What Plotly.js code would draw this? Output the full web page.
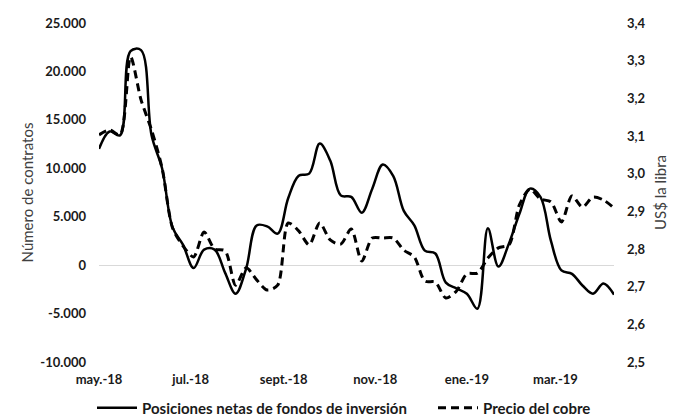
<!DOCTYPE html>
<html>
<head>
<meta charset="utf-8">
<script src="https://cdn.plot.ly/plotly-3.0.1.min.js"></script>
<style>html,body{margin:0;padding:0;background:#fff;}#chart{width:682px;height:420px;}</style>
</head>
<body>
<div id="chart"></div>
<script>
var dates = [
  '2018-05-01','2018-05-08','2018-05-15','2018-05-22','2018-05-29',
  '2018-06-05','2018-06-12','2018-06-19','2018-06-26',
  '2018-07-03','2018-07-10','2018-07-17','2018-07-24','2018-07-31',
  '2018-08-07','2018-08-14','2018-08-21','2018-08-28',
  '2018-09-04','2018-09-11','2018-09-18','2018-09-25',
  '2018-10-02','2018-10-09','2018-10-16','2018-10-23','2018-10-30',
  '2018-11-06','2018-11-13','2018-11-20','2018-11-27',
  '2018-12-04','2018-12-11','2018-12-18','2018-12-25',
  '2019-01-01','2019-01-08','2019-01-15','2019-01-22','2019-01-29',
  '2019-02-05','2019-02-12','2019-02-19','2019-02-26',
  '2019-03-05','2019-03-12','2019-03-19','2019-03-26',
  '2019-04-02','2019-04-09'
];
var posicionesNetas = [
  12000, 13800, 13400, 22100, 22200,
  13400, 10000, 3900, 2100,
  -300, 1600, 1600, -800, -2950,
  -350, 4100, 4000, 3250,
  6900, 9240, 9450, 12550,
  10800, 7200, 7050, 5420, 7900,
  10400, 9200, 5600, 4100,
  1500, 1200, -1800, -2400,
  -2950, -4500, 3800, -150, 2220,
  5300, 7900, 7050, 2500,
  -550, -900, -2100, -2950,
  -1900, -3050
];
var precioCobre = [
  3.103, 3.116, 3.103, 3.310, 3.196,
  3.116, 3.015, 2.856, 2.808,
  2.779, 2.845, 2.800, 2.795, 2.704,
  2.750, 2.718, 2.691, 2.704,
  2.869, 2.848, 2.811, 2.869,
  2.824, 2.813, 2.853, 2.768, 2.829,
  2.829, 2.829, 2.797, 2.779,
  2.715, 2.712, 2.670, 2.688,
  2.734, 2.736, 2.776, 2.803, 2.811,
  2.917, 2.959, 2.933, 2.925,
  2.872, 2.941, 2.911, 2.938,
  2.930, 2.909
];
var xTickVals = ['2018-05-01','2018-07-01','2018-09-01','2018-11-01','2019-01-01','2019-03-01'];
var xTickText = ['may.-18','jul.-18','sept.-18','nov.-18','ene.-19','mar.-19'];
var yTickVals = [25000, 20000, 15000, 10000, 5000, 0, -5000, -10000];
var yTickText = ['25.000','20.000','15.000','10.000','5.000','0','-5.000','-10.000'];
var y2TickVals = [3.4, 3.3, 3.2, 3.1, 3.0, 2.9, 2.8, 2.7, 2.6, 2.5];
var y2TickText = ['3,4','3,3','3,2','3,1','3,0','2,9','2,8','2,7','2,6','2,5'];

var tickFont = {family: 'Lato, sans-serif', size: 13, color: '#1a1a1a', weight: 'bold'};
var legendFont = {family: 'Lato, sans-serif', size: 15, color: '#1a1a1a', weight: 'bold'};
var axisTitleFont = {family: 'Lato, sans-serif', size: 15, color: '#404040'};

var traces = [
  {
    x: dates, y: posicionesNetas, type: 'scatter', mode: 'lines',
    name: 'Posiciones netas de fondos de inversión',
    line: {color: '#000000', width: 2.5, shape: 'spline', smoothing: 1},
    yaxis: 'y', legend: 'legend'
  },
  {
    x: dates, y: precioCobre, type: 'scatter', mode: 'lines',
    name: 'Precio del cobre',
    line: {color: '#000000', width: 3, shape: 'spline', smoothing: 0.8, dash: '8px,5px'},
    yaxis: 'y2', legend: 'legend2'
  }
];

var layout = {
  width: 682, height: 420,
  margin: {l: 99, r: 68, t: 23, b: 58, autoexpand: false},
  paper_bgcolor: '#ffffff', plot_bgcolor: '#ffffff',
  showlegend: true,
  legend: {
    orientation: 'h', xref: 'container', yref: 'container',
    x: 92 / 682, xanchor: 'left', y: 12 / 420, yanchor: 'middle',
    font: legendFont, bgcolor: 'rgba(0,0,0,0)', itemwidth: 40
  },
  legend2: {
    orientation: 'h', xref: 'container', yref: 'container',
    x: 433 / 682, xanchor: 'left', y: 12 / 420, yanchor: 'middle',
    font: legendFont, bgcolor: 'rgba(0,0,0,0)', itemwidth: 40
  },
  xaxis: {
    type: 'date', range: ['2018-05-01', '2019-04-09'],
    tickmode: 'array', tickvals: xTickVals, ticktext: xTickText,
    showgrid: false, zeroline: false, showline: false, ticks: '',
    tickfont: tickFont, ticklabelstandoff: 8
  },
  yaxis: {
    range: [-10000, 25000],
    tickmode: 'array', tickvals: yTickVals, ticktext: yTickText,
    showgrid: false, zeroline: true, zerolinecolor: '#d9d9d9', zerolinewidth: 1,
    showline: false, ticks: '', tickfont: tickFont, ticklabelstandoff: 12,
    title: {text: 'Número de contratos', font: axisTitleFont, standoff: 3}
  },
  yaxis2: {
    overlaying: 'y', side: 'right', range: [2.5, 3.4],
    tickmode: 'array', tickvals: y2TickVals, ticktext: y2TickText,
    showgrid: false, zeroline: false, showline: false, ticks: '',
    tickfont: tickFont, ticklabelstandoff: 12,
    title: {text: 'US$ la libra', font: axisTitleFont, standoff: 10}
  }
};

Plotly.newPlot('chart', traces, layout, {displayModeBar: false, staticPlot: true});
</script>
</body>
</html>
